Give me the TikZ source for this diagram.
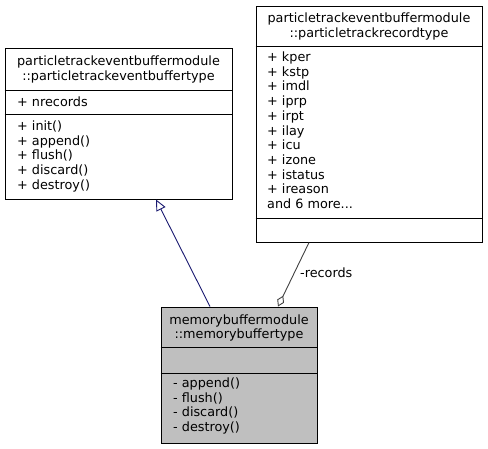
\documentclass[tikz,border=0pt]{standalone}
\usepackage{fontspec}
\setmainfont{DejaVu Sans}
\usetikzlibrary{arrows.meta}
\definecolor{inhblue}{HTML}{191970}
\definecolor{aggrgray}{HTML}{404040}
\definecolor{classgray}{HTML}{BFBFBF}

\begin{document}
\begin{tikzpicture}[x=1pt,y=-1pt,
  classbox/.style={draw=black,line width=1pt,inner sep=0pt},
  title/.style={inner sep=0pt,font=\fontsize{12.8}{14.7}\selectfont,text height=9.5pt,text depth=2.5pt},
  member/.style={title,anchor=west},
  inherit/.style={draw=inhblue,line width=0.9pt,-{Triangle[open,length=11pt,width=10pt]}},
  aggr/.style={draw=aggrgray,line width=0.9pt,-{Diamond[open,length=12pt,width=7.5pt]}}]
\useasboundingbox (0,0) rectangle (488,448);

% base class
\node[classbox,minimum width=227pt,minimum height=151pt] (evb) at (118.5,123.5) {};
\draw[line width=1pt] (evb.west |- 0,90) -- (evb.east |- 0,90);
\draw[line width=1pt] (evb.west |- 0,114) -- (evb.east |- 0,114);
\node[title] (evbt1) at (118.5,61.5) {particletrackeventbuffermodule};
\node[title] (evbt2) at (118.5,76.5) {::particletrackeventbuffertype};
\node[member] (evbatt) at (17,103) {+ nrecords};
\foreach \m [count=\i] in {init,append,flush,discard,destroy}
  \node[member] (evbm\i) at (17,{127+(\i-1)*14.7}) {+ \m()};

% record type
\node[classbox,minimum width=226pt,minimum height=236pt] (rt) at (369,124) {};
\draw[line width=1pt] (rt.west |- 0,46) -- (rt.east |- 0,46);
\draw[line width=1pt] (rt.west |- 0,218) -- (rt.east |- 0,218);
\node[title] (rtt1) at (369,18.5) {particletrackeventbuffermodule};
\node[title] (rtt2) at (369,33.5) {::particletrackrecordtype};
\foreach \a [count=\i] in {kper,kstp,imdl,iprp,irpt,ilay,icu,izone,istatus,ireason}
  \node[member] (rta\i) at (267,{58+(\i-1)*14.7}) {+ \a};
\node[member] (rtmore) at (267,205) {and 6 more...};

% memory buffer type
\node[classbox,fill=classgray,minimum width=156pt,minimum height=136pt] (mbt) at (239,375) {};
\draw[line width=1pt] (mbt.west |- 0,347) -- (mbt.east |- 0,347);
\draw[line width=1pt] (mbt.west |- 0,373) -- (mbt.east |- 0,373);
\node[title] (mbtt1) at (239,320.5) {memorybuffermodule};
\node[title] (mbtt2) at (239,334.5) {::memorybuffertype};
\foreach \m [count=\i] in {append,flush,discard,destroy}
  \node[member] (mbtm\i) at (173,{384+(\i-1)*14.7}) {- \m()};

% relations
\draw[inherit] (mbt.north -| 210,0) -- (evb.south -| 156,0);
\draw[aggr] (rt.south -| 309,0) -- (mbt.north -| 278,0);
\node[member] (reclbl) at (300,274) {-records};
\end{tikzpicture}
\end{document}
